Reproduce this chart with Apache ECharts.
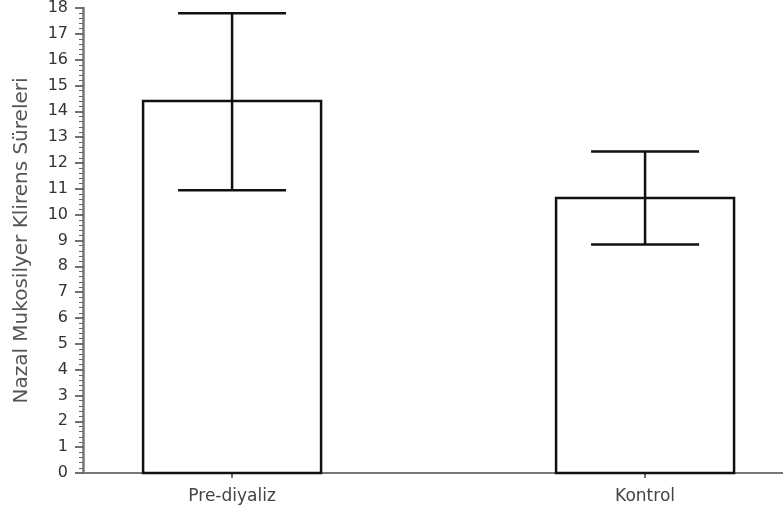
<!DOCTYPE html>
<html>
<head>
<meta charset="utf-8">
<script src="https://cdn.jsdelivr.net/npm/echarts@6/dist/echarts.min.js"></script>
<style>html,body{margin:0;padding:0;background:#fff;}#c{width:783px;height:510px;}</style>
</head>
<body>
<div id="c"></div>
<script>
const categories = ['Pre-diyaliz', 'Kontrol'];
const positions = [1, 2];
const means = [14.4, 10.65];
const upper = [17.8, 12.45];
const lower = [10.95, 8.85];
const yTicks = [0, 18, 1];

const chart = echarts.init(document.getElementById('c'));
const barData = positions.map((p, i) => [p, means[i]]);
const errData = positions.map((p, i) => [p, lower[i], upper[i]]);
const halfBar = 0.2155;
const capHalfPx = 54;

chart.setOption({
  animation: false,
  backgroundColor: '#fff',
  grid: { left: 83, right: 0, top: 8, bottom: 37, containLabel: false },
  xAxis: {
    type: 'value', min: 0.639, max: 2.334,
    splitLine: { show: false },
    axisLine: { show: true, lineStyle: { color: '#777', width: 2 } },
    axisTick: { show: true, customValues: positions, length: 5, lineStyle: { color: '#444', width: 1.5 } },
    axisLabel: {
      customValues: positions,
      formatter: v => categories[positions.indexOf(Math.round(v))] || '',
      color: '#444', fontFamily: 'DejaVu Sans', fontSize: 17, margin: 15
    }
  },
  yAxis: {
    type: 'value', min: yTicks[0], max: yTicks[1], interval: yTicks[2],
    name: 'Nazal Mukosilyer Klirens Süreleri',
    nameLocation: 'middle', nameGap: 51,
    nameTextStyle: { color: '#555', fontFamily: 'DejaVu Sans', fontSize: 20 },
    splitLine: { show: false },
    axisLine: { show: true, lineStyle: { color: '#777', width: 2.5 } },
    axisTick: { show: true, length: 8, lineStyle: { color: '#444', width: 1.5 } },
    minorTick: { show: true, splitNumber: 5, length: 4, lineStyle: { color: '#666', width: 1 } },
    axisLabel: { color: '#333', fontFamily: 'DejaVu Sans', fontSize: 16, margin: 15 }
  },
  series: [
    {
      type: 'custom',
      data: barData,
      renderItem: (params, api) => {
        const x = api.value(0), v = api.value(1);
        const p1 = api.coord([x - halfBar, v]);
        const p2 = api.coord([x + halfBar, 0]);
        return {
          type: 'rect',
          shape: { x: p1[0], y: p1[1], width: p2[0] - p1[0], height: p2[1] - p1[1] },
          style: { fill: '#fff', stroke: '#111', lineWidth: 2.5 }
        };
      },
      z: 2
    },
    {
      type: 'custom',
      data: errData,
      renderItem: (params, api) => {
        const x = api.value(0);
        const lo = api.coord([x, api.value(1)]);
        const hi = api.coord([x, api.value(2)]);
        const st = { stroke: '#111', lineWidth: 2.5 };
        return {
          type: 'group',
          children: [
            { type: 'line', shape: { x1: hi[0], y1: hi[1], x2: lo[0], y2: lo[1] }, style: st },
            { type: 'line', shape: { x1: hi[0] - capHalfPx, y1: hi[1], x2: hi[0] + capHalfPx, y2: hi[1] }, style: st },
            { type: 'line', shape: { x1: lo[0] - capHalfPx, y1: lo[1], x2: lo[0] + capHalfPx, y2: lo[1] }, style: st }
          ]
        };
      },
      z: 3
    }
  ]
});
</script>
</body>
</html>
